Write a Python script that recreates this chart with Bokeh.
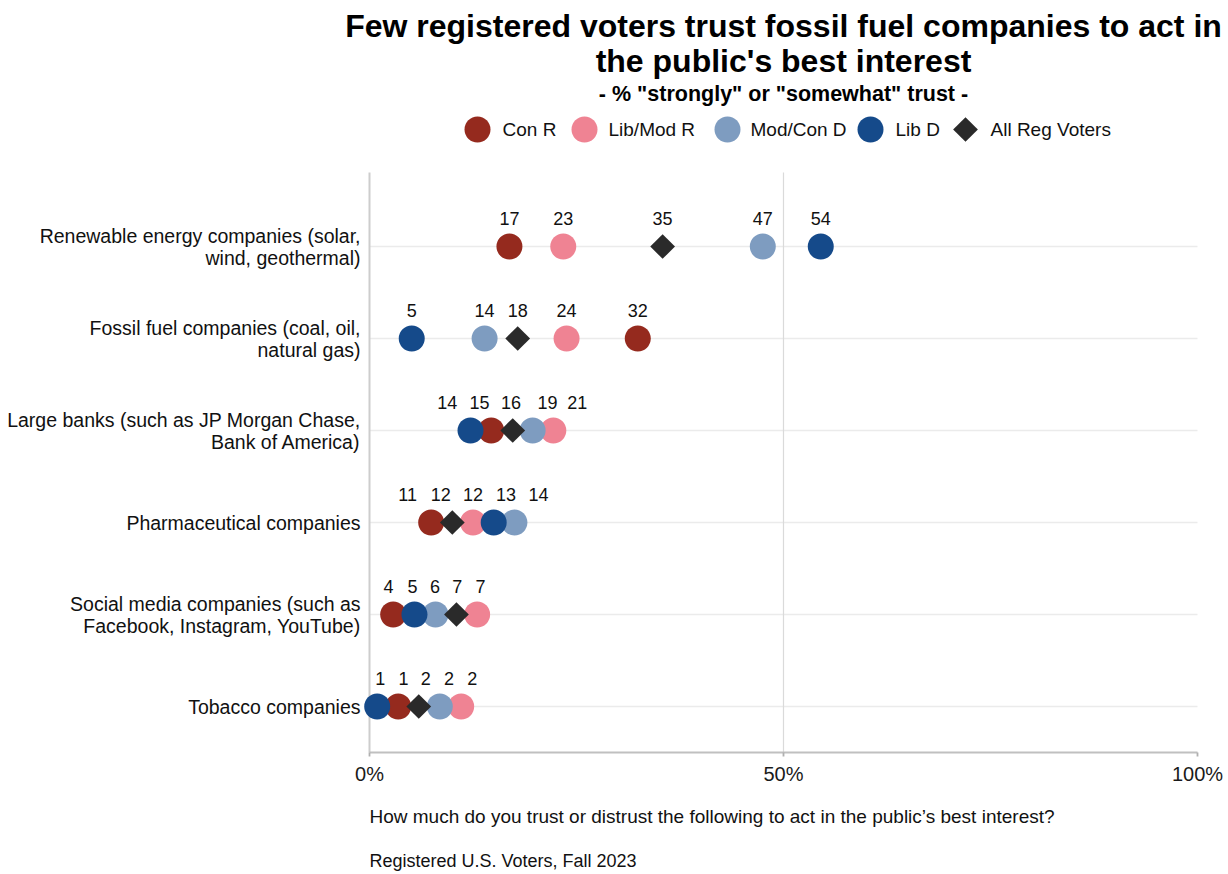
import math
from bokeh.plotting import figure
from bokeh.models import Range1d
from bokeh.core.properties import value
from bokeh.embed import file_html
from bokeh.resources import INLINE

FONT = "Liberation Sans"

# ---------------- data ----------------
categories = [
    "Renewable energy companies (solar,\nwind, geothermal)",
    "Fossil fuel companies (coal, oil,\nnatural gas)",
    "Large banks (such as JP Morgan Chase,\nBank of America)",
    "Pharmaceutical companies",
    "Social media companies (such as\nFacebook, Instagram, YouTube)",
    "Tobacco companies",
]
series = ["Con R", "Lib/Mod R", "Mod/Con D", "Lib D", "All Reg Voters"]
colors = ["#952A1E", "#EF8393", "#7E9CC0", "#154A8A", "#2A2A2A"]

# % "strongly" or "somewhat" trust (labels)
con_r = [17, 32, 15, 11, 4, 1]
lib_mod_r = [23, 24, 21, 12, 7, 2]
mod_con_d = [47, 14, 19, 14, 6, 2]
lib_d = [54, 5, 14, 13, 5, 1]
all_reg = [35, 18, 16, 12, 7, 2]

# dodged dot positions as drawn (%)
con_r_pos = [16.9, 32.4, 14.7, 7.45, 2.86, 3.47]
lib_mod_r_pos = [23.4, 23.8, 22.2, 12.5, 13.0, 11.07]
mod_con_d_pos = [47.5, 13.9, 19.7, 17.5, 7.97, 8.49]
lib_d_pos = [54.5, 5.1, 12.2, 15.0, 5.43, 0.93]
all_reg_pos = [35.4, 17.9, 17.3, 10.0, 10.5, 5.95]

# repelled value-label positions as drawn (%)
con_r_lab = [16.9, 32.4, 13.3, 4.6, 2.3, 4.1]
lib_mod_r_lab = [23.4, 23.8, 25.1, 12.5, 13.4, 12.4]
mod_con_d_lab = [47.5, 13.9, 21.5, 20.4, 7.9, 9.6]
lib_d_lab = [54.5, 5.1, 9.4, 16.5, 5.2, 1.3]
all_reg_lab = [35.4, 17.9, 17.1, 8.6, 10.6, 6.8]

x_ticks = [0, 50, 100]
x_tick_labels = ["0%", "50%", "100%"]

title_lines = ["Few registered voters trust fossil fuel companies to act in",
               "the public's best interest"]
subtitle = '- % "strongly" or "somewhat" trust -'
captions = ["How much do you trust or distrust the following to act in the public\u2019s best interest?",
            "Registered U.S. Voters, Fall 2023"]

values = [con_r, lib_mod_r, mod_con_d, lib_d, all_reg]
positions = [con_r_pos, lib_mod_r_pos, mod_con_d_pos, lib_d_pos, all_reg_pos]
label_pos = [con_r_lab, lib_mod_r_lab, mod_con_d_lab, lib_d_lab, all_reg_lab]

n = len(categories)
rows = [n - 1 - i for i in range(n)]   # first category at the top

# ---------------- layout helpers (canvas pixel -> data) ----------------
PX_PER_PCT = 8.28
PX_PER_ROW = 92.0
X0_PX = 369      # 0 % position
YB_PX = 752      # bottom of plotting panel (row -0.5)


def ypix(py):
    return -0.5 + (YB_PX - py) / PX_PER_ROW


def xpix(px):
    return (px - X0_PX) / PX_PER_PCT


def dy(pixels):
    return pixels / PX_PER_ROW


W, H = 1228, 872
p = figure(width=W, height=H, output_backend="svg", toolbar_location=None, tools="",
           x_range=Range1d(xpix(0), xpix(W)), y_range=Range1d(ypix(H), ypix(0)),
           x_axis_location=None, y_axis_location=None, min_border=0)
p.outline_line_color = None
p.background_fill_color = "white"
p.border_fill_color = "white"
p.xgrid.visible = False
p.ygrid.visible = False

top_y = ypix(172)
bot_y = -0.5

# horizontal gridlines at categories
p.segment(x0=[0] * n, x1=[100] * n, y0=rows, y1=rows, line_color="#ebebeb", line_width=1.6)
# vertical gridline at 50 %
p.segment(x0=[50], x1=[50], y0=[bot_y], y1=[top_y], line_color="#dadada", line_width=1.2)
# left axis line
p.segment(x0=[0], x1=[0], y0=[bot_y], y1=[top_y], line_color="#cdcdcd", line_width=2)
# bottom axis line, ticks and tick labels
p.segment(x0=[0], x1=[100], y0=[bot_y], y1=[bot_y], line_color="#c0c0c0", line_width=1.8)
p.segment(x0=x_ticks, x1=x_ticks, y0=[bot_y] * len(x_ticks), y1=[bot_y - dy(4)] * len(x_ticks),
          line_color="#b0b0b0", line_width=1.8)
p.text(x=x_ticks, y=[bot_y - dy(21)] * len(x_ticks), text=x_tick_labels, text_align="center",
       text_baseline="middle", text_font=value(FONT), text_font_size="20px", text_color="#1a1a1a")

# dots (drawing order: Con R, Lib/Mod R, Mod/Con D, Lib D, All)
for s, c, pos in zip(series, colors, positions):
    if s == "All Reg Voters":
        p.scatter(x=pos, y=rows, marker="square", size=17.5, angle=math.pi / 4,
                  fill_color=c, line_color=None)
    else:
        p.scatter(x=pos, y=rows, marker="circle", size=26, fill_color=c, line_color=None)

# value labels
for vals, lp in zip(values, label_pos):
    p.text(x=lp, y=[r + dy(28) for r in rows], text=[str(v) for v in vals], text_align="center",
           text_baseline="middle", text_font=value(FONT),
           text_font_size="18px", text_color="#111111")

# category labels (left of the panel)
cx, cy, ct = [], [], []
for cat, r in zip(categories, rows):
    lines = cat.split("\n")
    k = len(lines)
    for j, line in enumerate(lines):
        off = (k - 1) / 2 * 22 - j * 22
        cx.append(xpix(X0_PX - 9))
        cy.append(r + dy(off))
        ct.append(line)
p.text(x=cx, y=cy, text=ct, text_align="right", text_baseline="middle",
       text_font=value(FONT), text_font_size="19.5px", text_color="#111111")

# title & subtitle
p.text(x=[50, 50], y=[ypix(25), ypix(60)], text=title_lines, text_align="center",
       text_baseline="middle", text_font=value(FONT), text_font_size="32px",
       text_font_style="bold", text_color="black")
p.text(x=[50], y=[ypix(93)], text=[subtitle], text_align="center", text_baseline="middle",
       text_font=value(FONT), text_font_size="21.5px", text_font_style="bold", text_color="black")

# legend
leg_marker_x = [477, 584, 727, 870, 965]
leg_text_x = [502, 608, 750, 895, 990]
ly = ypix(129)
for s, c, mx, tx in zip(series, colors, leg_marker_x, leg_text_x):
    if s == "All Reg Voters":
        p.scatter(x=[xpix(mx)], y=[ly], marker="square", size=17.5, angle=math.pi / 4,
                  fill_color=c, line_color=None)
    else:
        p.scatter(x=[xpix(mx)], y=[ly], marker="circle", size=26, fill_color=c, line_color=None)
    p.text(x=[xpix(tx)], y=[ly], text=[s], text_align="left", text_baseline="middle",
           text_font=value(FONT), text_font_size="19px", text_color="#111111")

# captions
p.text(x=[0], y=[ypix(816)], text=[captions[0]], text_align="left",
       text_baseline="middle", text_font=value(FONT), text_font_size="19px",
       text_color="#111111")
p.text(x=[0], y=[ypix(860)], text=[captions[1]], text_align="left",
       text_baseline="middle", text_font=value(FONT), text_font_size="18px",
       text_color="#111111")

open("out.html", "w").write(file_html(p, INLINE))
